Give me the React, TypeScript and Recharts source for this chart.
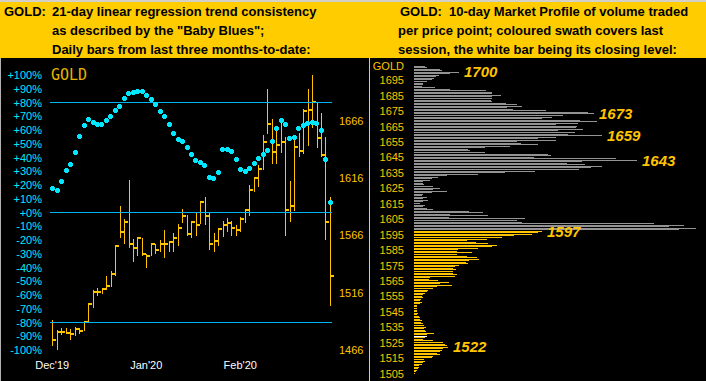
import React from 'react';
import { ComposedChart, Bar, Line, XAxis, YAxis, ReferenceLine, BarChart, Cell, ReferenceDot } from 'recharts';

// ---------- Left panel: daily bars (price) + Baby Blues (%) ----------
const highs = [1492.5,1483.7,1485.5,1485.5,1484.3,1486.1,1484.9,1491.3,1506.4,1518.1,
  1520.4,1520.4,1530.3,1535.0,1557.7,1592.1,1579.9,1614.8,1563.0,1564.7,
  1564.1,1550.2,1559.5,1558.9,1562.4,1570.6,1561.2,1568.2,1576.4,1589.2,
  1583.4,1578.7,1585.7,1596.2,1599.7,1585.7,1567.7,1572.3,1578.7,1581.6,
  1578.7,1574.7,1582.2,1589.2,1609.6,1617.2,1627.7,1653.3,1693.6,1667.9,
  1658.6,1663.8,1652.2,1613.1,1652.2,1655.7,1676.7,1694.1,1705.8,1682.5,
  1673.2,1652.2,1599.1];
const lows = [1469.1,1466.2,1479.1,1479.6,1475.0,1477.9,1480.2,1482.6,1489.5,1503.0,
  1512.9,1514.6,1518.7,1521.0,1530.9,1563.6,1558.3,1554.8,1542.6,1547.8,
  1548.4,1537.3,1547.8,1549.6,1551.9,1546.7,1551.3,1551.9,1557.1,1577.0,
  1565.9,1563.6,1565.3,1576.4,1574.7,1553.7,1551.9,1557.2,1564.2,1568.8,
  1565.9,1565.3,1569.4,1577.0,1582.8,1603.8,1607.9,1623.0,1654.5,1628.3,
  1628.3,1637.6,1565.3,1577.6,1586.9,1634.1,1637.0,1644.0,1659.7,1642.3,
  1634.1,1561.8,1504.7];
const closes = [1475.0,1481.4,1481.4,1480.8,1480.2,1484.3,1482.6,1490.7,1505.9,1517.0,
  1516.4,1519.3,1521.6,1532.7,1556.6,1568.8,1577.5,1558.9,1554.8,1564.1,
  1549.6,1548.4,1558.3,1553.7,1558.3,1558.9,1560.1,1563.6,1572.3,1582.8,
  1567.1,1578.1,1575.2,1595.0,1582.8,1558.3,1560.7,1571.2,1575.2,1576.4,
  1572.3,1570.6,1580.5,1588.1,1605.5,1616.0,1624.2,1647.5,1663.2,1638.8,
  1644.6,1647.5,1588.6,1591.6,1642.8,1639.9,1674.3,1675.5,1682.5,1651.0,
  1635.9,1577.6,1530.4];
const babyBlues = [17.9,16.4,23.0,31.0,35.3,44.1,55.7,63.7,68.1,65.9,
  64.4,64.4,67.3,70.3,74.6,77.5,83.3,87.0,87.7,88.4,
  88.4,85.5,82.6,79.0,74.1,70.3,64.4,57.9,53.5,52.1,
  47.7,42.6,38.3,36.8,34.6,25.9,25.2,29.5,46.3,46.3,
  44.8,39.0,31.7,30.3,32.4,36.1,39.7,42.6,45.5,52.1,
  61.5,67.3,64.4,54.3,55.0,61.5,63.7,65.2,65.9,65.2,
  59.9,39.0,7.7];
const monthLabels = ["Dec'19", "Jan'20", "Feb'20"];
const monthStartIdx = [0, 21, 42];
const pctTicks = [-100,-90,-80,-70,-60,-50,-40,-30,-20,-10,0,10,20,30,40,50,60,70,80,90,100];
const priceTicks = [1466, 1516, 1566, 1616, 1666];
const bandLevels = [80, 0, -80];

// ---------- Right panel: 10-day market profile ----------
const profileTop = 1704;
const profileVolume = [
  11,13,26,28,45,36,25,22,20,18,
  13,9,9,8,21,36,72,78,78,87,
  78,78,77,78,92,103,108,93,99,132,
  174,180,149,138,128,166,183,164,142,163,
  162,169,144,161,154,188,142,124,142,103,
  107,124,96,71,54,56,71,134,137,120,
  202,223,168,153,171,188,177,165,121,91,
  64,33,24,18,16,9,9,10,19,26,
  19,33,18,9,8,13,9,14,9,6,
  11,9,13,19,55,69,36,74,35,111,
  103,108,240,270,255,282,265,
  128,124,118,100,88,73,53,62,74,83,
  78,64,44,43,58,43,53,63,65,55,
  52,54,45,41,39,42,39,39,43,41,
  16,15,24,35,26,38,23,19,14,13,
  11,9,8,9,7,6,8,6,3,3,
  3,3,3,4,3,5,6,6,8,7,
  9,10,12,10,11,12,20,13,13,11,
  9,19,29,31,33,34,29,28,26,23,
  26,19,18,10,11,9,8,5,5,4,
  3,2,1];
const swathTop = 1597;
const closingLevel = 1529;
const peakLabels = [1700, 1673, 1659, 1643, 1597, 1522];
const profileTicks = [1505,1515,1525,1535,1545,1555,1565,1575,1585,1595,1605,1615,1625,1635,1645,1655,1665,1675,1685,1695];

const dailyData = highs.map((h, i) => ({ i, h, l: lows[i], c: closes[i], b: babyBlues[i] }));
const profileData = profileVolume.map((v, k) => ({ p: profileTop - k, v }));

const CYAN_TXT = '#00E8FF';
const CYAN_DOT = '#00E8FF';
const LINE_BLUE = '#00B4F0';
const GOLD = '#FFC400';
const GRAY = '#939393';
const FONT = 'Arial, "Liberation Sans", sans-serif';

const OhlcShape = (props: any) => {
  const { x, y, width, height, payload } = props;
  if (height == null || isNaN(height)) return null;
  const cx = Math.round(x + width / 2);
  const yc = y + ((payload.h - payload.c) / (payload.h - payload.l)) * height;
  return (
    <g shapeRendering="crispEdges">
      <rect x={cx} y={y} width={1} height={Math.max(1, height)} fill={GOLD} />
      <rect x={cx} y={Math.round(yc) - 1} width={4} height={2} fill={GOLD} />
    </g>
  );
};

const BlueDot = (props: any) => {
  const { cx, cy, index } = props;
  if (cx == null || cy == null) return <g key={`d${index}`} />;
  const X = Math.round(cx), Y = Math.round(cy);
  return (
    <g key={`d${index}`} shapeRendering="crispEdges">
      <rect x={X - 2} y={Y - 1} width={5} height={3} fill={CYAN_DOT} />
      <rect x={X - 1} y={Y - 2} width={3} height={5} fill={CYAN_DOT} />
    </g>
  );
};

const PctTick = (props: any) => {
  const { y, payload } = props;
  const v = payload.value;
  const s = v >= 0 ? `+${v}%` : `${v}%`;
  return <text x={42} y={y} dy={4} textAnchor="end" fill={CYAN_TXT} fontSize={11} fontFamily={FONT}>{s}</text>;
};

const PriceTick = (props: any) => {
  const { y, payload } = props;
  return <text x={339} y={y} dy={4} textAnchor="start" fill={GOLD} fontSize={11} fontFamily={FONT}>{payload.value}</text>;
};

const MonthTick = (props: any) => {
  const { x, payload } = props;
  const k = monthStartIdx.indexOf(payload.value);
  return <text x={x} y={311} textAnchor="middle" fill="#FFFFFF" fontSize={11} fontFamily={FONT}>{k >= 0 ? monthLabels[k] : ''}</text>;
};

const ProfTick = (props: any) => {
  const { y, payload } = props;
  return <text x={34} y={y} dy={4} textAnchor="end" fill={GOLD} fontSize={11} fontFamily={FONT}>{payload.value}</text>;
};

const ProfBar = (props: any) => {
  const { x, y, width, height, fill } = props;
  if (!width || width <= 0) return null;
  return <rect x={Math.round(x)} y={Math.round(y + height / 2 - 0.5)} width={Math.round(width)} height={1} fill={fill} shapeRendering="crispEdges" />;
};

const headerLine: React.CSSProperties = { position: 'absolute', whiteSpace: 'nowrap', fontFamily: FONT, fontWeight: 'bold', fontSize: 13, lineHeight: '19px', color: '#000' };

export default function App() {
  return (
    <div style={{ position: 'absolute', left: 0, top: 0, width: 706, height: 381, background: '#000', overflow: 'hidden' }}>
      {/* header */}
      <div style={{ position: 'absolute', left: 0, top: 0, width: 706, height: 2, background: '#D4D0C8' }} />
      <div style={{ position: 'absolute', left: 0, top: 2, width: 706, height: 56, background: '#FFCC00' }} />
      <div style={{ ...headerLine, left: 4, top: 2 }}>GOLD:</div>
      <div style={{ ...headerLine, left: 52, top: 2 }}>21-day linear regression trend consistency</div>
      <div style={{ ...headerLine, left: 52, top: 21 }}>as described by the "Baby Blues";</div>
      <div style={{ ...headerLine, left: 52, top: 40 }}>Daily bars from last three months-to-date:</div>
      <div style={{ ...headerLine, left: 400, top: 2 }}>GOLD:</div>
      <div style={{ ...headerLine, left: 449, top: 2 }}>10-day Market Profile of volume traded</div>
      <div style={{ ...headerLine, left: 398, top: 21 }}>per price point; coloured swath covers last</div>
      <div style={{ ...headerLine, left: 398, top: 40 }}>session, the white bar being its closing level:</div>

      {/* borders */}
      <div style={{ position: 'absolute', left: 0, top: 58, width: 1, height: 323, background: '#B0B0B0' }} />
      <div style={{ position: 'absolute', left: 369, top: 58, width: 1, height: 323, background: '#C8C8C8' }} />

      {/* left chart */}
      <div style={{ position: 'absolute', left: 0, top: 58 }}>
        <ComposedChart width={369} height={323} data={dailyData} margin={{ top: 17, right: 0, bottom: 0, left: 0 }}>
          <XAxis dataKey="i" type="category" height={31} ticks={monthStartIdx} interval={0} tick={<MonthTick />} axisLine={false} tickLine={false} />
          <YAxis yAxisId="pct" orientation="left" width={50} type="number" domain={[-100, 100]} ticks={pctTicks} interval={0} tick={<PctTick />} axisLine={false} tickLine={false} />
          <YAxis yAxisId="price" orientation="right" width={37} type="number" domain={[1466, 1706]} ticks={priceTicks} interval={0} tick={<PriceTick />} axisLine={false} tickLine={false} />
          {bandLevels.map((lv) => (
            <ReferenceLine key={lv} yAxisId="pct" y={lv} stroke={LINE_BLUE} strokeWidth={1} />
          ))}
          <Bar yAxisId="price" dataKey={(d: any) => [d.l, d.h]} shape={<OhlcShape />} isAnimationActive={false} />
          <Line yAxisId="pct" dataKey="b" stroke="none" strokeWidth={0} dot={BlueDot} activeDot={false} isAnimationActive={false} />
        </ComposedChart>
      </div>
      <div style={{ position: 'absolute', left: 51, top: 67, fontFamily: '"DejaVu Sans Mono", monospace', fontSize: 15, color: '#E8B400', lineHeight: '17px' }}>GOLD</div>

      {/* right chart */}
      <div style={{ position: 'absolute', left: 370, top: 58 }}>
        <BarChart layout="vertical" width={336} height={323} data={profileData} margin={{ top: 6, right: 0, bottom: 5, left: 0 }}>
          <XAxis type="number" domain={[0, 292]} hide allowDataOverflow />
          <YAxis type="number" dataKey="p" reversed domain={[1503.5, 1705.5]} ticks={profileTicks} interval={0} width={44} tick={<ProfTick />} axisLine={false} tickLine={false} allowDataOverflow />
          <Bar dataKey="v" barSize={1} shape={<ProfBar />} isAnimationActive={false}>
            {profileData.map((d) => (
              <Cell key={d.p} fill={d.p === closingLevel ? '#FFFFFF' : d.p <= swathTop ? GOLD : GRAY} />
            ))}
          </Bar>
          {peakLabels.map((p) => {
            const d = profileData.find((e) => e.p === p)!;
            return (
              <ReferenceDot key={p} x={d.v} y={p} r={0} shape={(sp: any) => (
                <text x={sp.cx + 5} y={sp.cy} dy={5} fill={GOLD} fontSize={15} fontWeight="bold" fontStyle="italic" fontFamily={FONT}>{p}</text>
              )} />
            );
          })}
        </BarChart>
      </div>
      <div style={{ position: 'absolute', left: 370, width: 34, top: 59, textAlign: 'right', fontFamily: FONT, fontSize: 11, color: GOLD, lineHeight: '14px' }}>GOLD</div>
    </div>
  );
}
